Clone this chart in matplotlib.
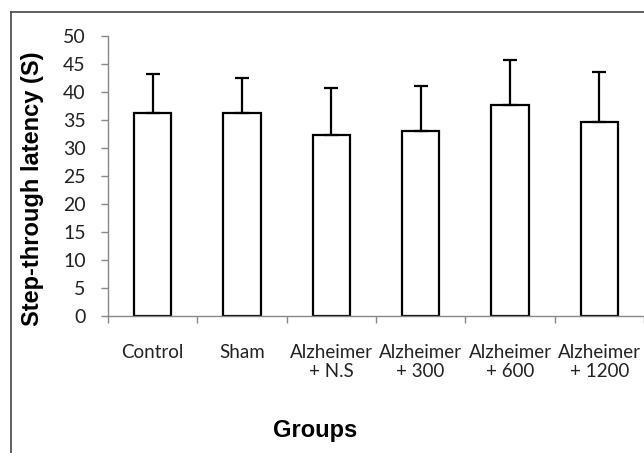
import matplotlib
matplotlib.use("Agg")
import matplotlib.pyplot as plt
from matplotlib.lines import Line2D

categories = ["Control", "Sham", "Alzheimer\n+ N.S", "Alzheimer\n+ 300", "Alzheimer\n+ 600", "Alzheimer\n+ 1200"]
means = [36.3, 36.3, 32.4, 33.0, 37.7, 34.6]
errors = [7.0, 6.2, 8.4, 8.1, 8.1, 9.0]
yticks = [0, 5, 10, 15, 20, 25, 30, 35, 40, 45, 50]

W, H = 644, 453
fig = plt.figure(figsize=(W/100, H/100), dpi=100)
ax = fig.add_axes([108/W, 1-316/H, (644-108)/W, (316-36)/H])

x = list(range(len(categories)))
ax.bar(x, means, width=0.42, color="white", edgecolor="black", linewidth=1.6, zorder=2)
ax.errorbar(x, means, yerr=[[0]*len(errors), errors], fmt="none", ecolor="black",
            elinewidth=1.6, capsize=5, capthick=1.6, zorder=3)

ax.set_xlim(-0.5, 5.5)
ax.set_ylim(0, 50)
ax.set_yticks(yticks)
ax.set_xticks([i - 0.5 for i in range(len(categories) + 1)], minor=False)
ax.set_xticklabels([])
ax.set_xticks(x, minor=True)
ax.set_xticklabels(categories, minor=True, fontfamily="Lato", fontsize=13.5, color="#222222")
ax.tick_params(axis="x", which="minor", length=0, pad=20)
ax.tick_params(axis="x", which="major", length=5, width=1, color="#888888", direction="out")
ax.tick_params(axis="y", length=5, width=1, color="#888888", pad=11, labelsize=14, labelcolor="#222222")
for t in ax.get_yticklabels():
    t.set_fontfamily("Lato")
for t in ax.get_xticklabels(minor=True):
    t.set_linespacing(1.15)

for s in ["top", "right"]:
    ax.spines[s].set_visible(False)
for s in ["left", "bottom"]:
    ax.spines[s].set_color("#888888")
    ax.spines[s].set_linewidth(1.0)

fig.text(33/W, 1-189/H, "Step-through latency (S)", rotation=90, ha="center", va="center",
         fontfamily="Liberation Sans", fontweight="bold", fontsize=17)
fig.text(315/W, 1-430/H, "Groups", ha="center", va="center",
         fontfamily="Liberation Sans", fontweight="bold", fontsize=17)

fig.add_artist(Line2D([11/W, 1], [1-12/H, 1-12/H], transform=fig.transFigure, color="#444444", linewidth=1.2))
fig.add_artist(Line2D([11/W, 11/W], [0, 1-12/H], transform=fig.transFigure, color="#444444", linewidth=1.2))

fig.savefig("out.png", dpi=100)
